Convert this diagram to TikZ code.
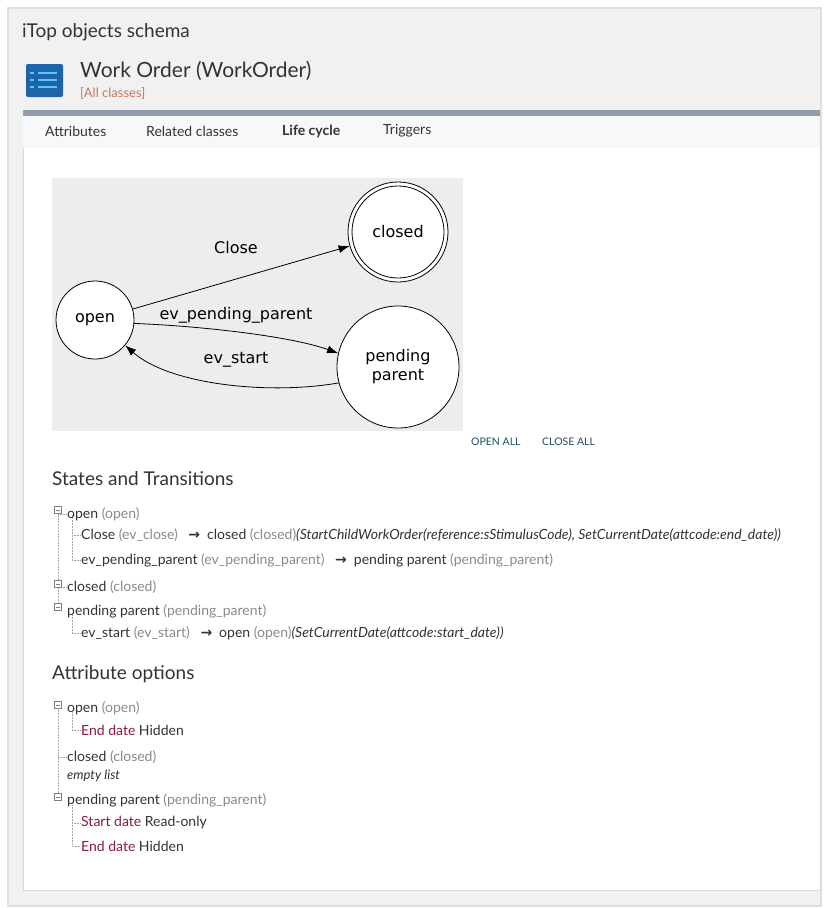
\documentclass[tikz,border=0pt]{standalone}
\usepackage{fontspec}
\setmainfont{Lato}
\newfontfamily\gfont{DejaVu Sans}
\usetikzlibrary{arrows.meta}
\definecolor{txt}{HTML}{333333}
\definecolor{gr}{HTML}{8A8A8A}
\definecolor{dred}{HTML}{8B1A3A}
\definecolor{dteal}{HTML}{1F4F5F}
\definecolor{bgc}{HTML}{F1F1F1}
\definecolor{barc}{HTML}{8F9DAB}
\definecolor{tabc}{HTML}{F7F8F9}
\definecolor{iconc}{HTML}{1E64AA}
\definecolor{iconl}{HTML}{5AC8F0}
\definecolor{graphbg}{HTML}{EDEDED}
\definecolor{linkc}{HTML}{C8785A}
\newcommand{\fs}[1]{\fontsize{#1}{#1}\selectfont}
\tikzset{
 t/.style={anchor=west,inner sep=0pt,text=txt,font=\fs{14}},
 st/.style={draw,circle,fill=white,line width=0.8pt,font=\gfont\fs{16},align=center,inner sep=0pt},
 el/.style={font=\gfont\fs{16},text=black,inner sep=1pt},
 tr/.style={draw=gray!70,densely dotted,line width=0.5pt},
 mbox/.style={draw=gray,fill=white,minimum size=7pt,inner sep=0pt,line width=0.4pt,
   path picture={\draw[gray] ([xshift=1.5pt]path picture bounding box.west)--([xshift=-1.5pt]path picture bounding box.east);}},
 ar/.style={-{Latex[length=11pt,width=8pt]},line width=0.8pt}
}
\begin{document}
\begin{tikzpicture}[x=1pt,y=-1pt]
\useasboundingbox (0,0) rectangle (828,908);
\fill[white] (0,0) rectangle (828,908);
\fill[gray!25] (7,7) rectangle (822,907);
\fill[bgc] (9,9) rectangle (820,905);
\fill[white] (23,110) rectangle (820,890);
\draw[gray!30] (23,110) rectangle (820,890);
\fill[barc] (23,110) rectangle (820,116);
\fill[tabc] (23,116) rectangle (820,148);
\node[t,font=\fs{19}] (title) at (22,32) {iTop objects schema};
% icon
\fill[iconc,rounded corners=2pt] (26,64) rectangle (63,97);
\foreach \y in {73,80,87} {\draw[iconl,line width=1.5pt] (38,\y)--(57,\y); \draw[iconl,line width=1.5pt] (30,\y)--(34,\y);}
\node[t,font=\fs{21}] (wo) at (80,71) {Work Order (WorkOrder)};
\node[t,font=\fs{13},text=linkc] (all) at (80,93) {[All classes]};
\node[t] (a1) at (45,131) {Attributes};
\node[t] (a2) at (146,131) {Related classes};
\node[t,font=\fs{14}\bfseries] (a3) at (282,131) {Life cycle};
\node[t] (a4) at (383,131) {Triggers};
% graph
\fill[graphbg] (52,178) rectangle (463,431);
\node[st,minimum size=78pt] (open) at (95,320) {open};
\node[st,minimum size=100pt] (closedo) at (398,232) {};
\node[st,minimum size=92pt] (closed) at (398,232) {closed};
\node[st,minimum size=122pt,font=\gfont\fontsize{16}{19}\selectfont] (pend) at (398,367) {pending\\parent};
\draw[ar] (open) -- (closedo);
\node[el] (lc) at (236,248) {Close};
\draw[ar] (open.-5) .. controls (200,326) and (290,336) .. (pend.167) ;
\node[el] (lp) at (236,315) {ev\_pending\_parent};
\draw[ar] (pend.195) .. controls (270,395) and (170,385) .. (open.320);
\node[el] (ls) at (236,360) {ev\_start};
\node[t,font=\fs{10.5},text=dteal] (oa) at (471,442) {OPEN ALL};
\node[t,font=\fs{10.5},text=dteal] (ca) at (542,442) {CLOSE ALL};
% states
\node[t,font=\fs{19}] (h1) at (52,479) {States and Transitions};
\draw[tr] (58,510)--(58,610);
\draw[tr] (72,515)--(72,560)--(80,560); \draw[tr] (72,535)--(80,535);
\draw[tr] (72,615)--(72,633)--(80,633);
\draw[tr] (58,587)--(66,587); \draw[tr] (58,514)--(66,514);
\node[mbox] (b1) at (58,510) {};
\node[mbox] (b2) at (58,584) {};
\node[mbox] (b3) at (58,607) {};
\node[t] (s1) at (67,514) {open \textcolor{gr}{(open)}};
\node[t] (s2) at (81,535) {Close \textcolor{gr}{(ev\_close)} \enspace{\gfont\bfseries→}\enspace closed \textcolor{gr}{(closed)}\textit{(StartChildWorkOrder(reference:sStimulusCode), SetCurrentDate(attcode:end\_date))}};
\node[t] (s3) at (81,560) {ev\_pending\_parent \textcolor{gr}{(ev\_pending\_parent)} \enspace{\gfont\bfseries→}\enspace pending parent \textcolor{gr}{(pending\_parent)}};
\node[t] (s4) at (67,587) {closed \textcolor{gr}{(closed)}};
\node[t] (s5) at (67,611) {pending parent \textcolor{gr}{(pending\_parent)}};
\node[t] (s6) at (81,633) {ev\_start \textcolor{gr}{(ev\_start)} \enspace{\gfont\bfseries→}\enspace open \textcolor{gr}{(open)}\textit{(SetCurrentDate(attcode:start\_date))}};
% attribute options
\node[t,font=\fs{19}] (h2) at (52,674) {Attribute options};
\draw[tr] (58,705)--(58,800);
\draw[tr] (72,712)--(72,730)--(80,730);
\draw[tr] (58,757)--(66,757);
\draw[tr] (72,805)--(72,846)--(80,846); \draw[tr] (72,823)--(80,823);
\node[mbox] (c1) at (58,705) {};
\node[mbox] (c3) at (58,797) {};
\node[t] (o1) at (67,708) {open \textcolor{gr}{(open)}};
\node[t] (o2) at (81,730) {\textcolor{dred}{End date} Hidden};
\node[t] (o3) at (67,757) {closed \textcolor{gr}{(closed)}};
\node[t,font=\fs{13}\itshape] (o4) at (67,776) {empty list};
\node[t] (o5) at (67,800) {pending parent \textcolor{gr}{(pending\_parent)}};
\node[t] (o6) at (81,823) {\textcolor{dred}{Start date} Read-only};
\node[t] (o7) at (81,846) {\textcolor{dred}{End date} Hidden};
\end{tikzpicture}
\end{document}
